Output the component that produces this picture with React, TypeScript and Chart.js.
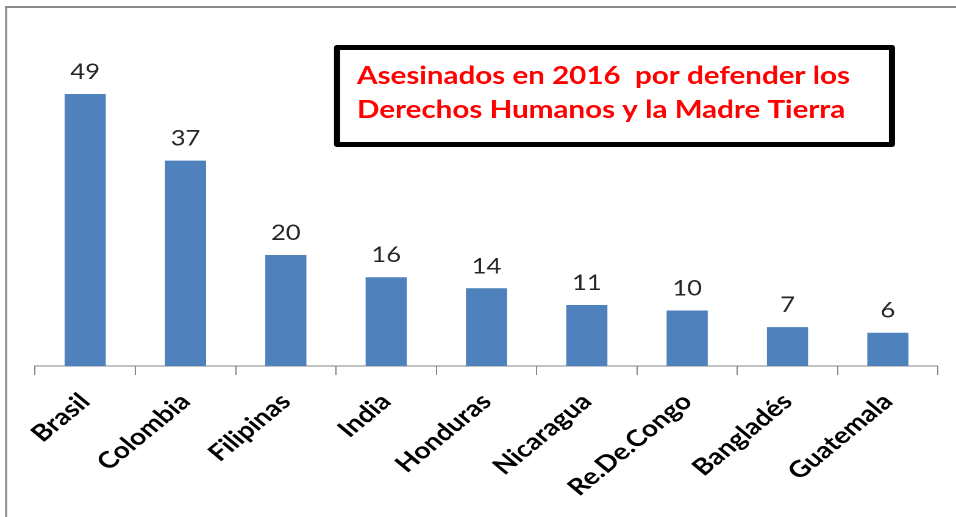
import React, { useEffect, useRef } from "react";
import { Chart, registerables } from "chart.js";

Chart.register(...registerables);

const categories = [
  "Brasil",
  "Colombia",
  "Filipinas",
  "India",
  "Honduras",
  "Nicaragua",
  "Re.De.Congo",
  "Bangladés",
  "Guatemala",
];
const values = [49, 37, 20, 16, 14, 11, 10, 7, 6];
const titleLines = [
  "Asesinados en 2016  por defender los",
  "Derechos Humanos y la Madre Tierra",
];
const yMin = 0;
const yMax = 60;

// The reference is horizontally stretched; render narrower and stretch.
const W = 784;
const H = 517;
const S = 956 / W;

export default function App() {
  const ref = useRef<HTMLCanvasElement>(null);

  useEffect(() => {
    let chart: Chart | null = null;
    let cancelled = false;

    const frame = {
      id: "frame",
      beforeDraw(c: any) {
        const ctx = c.ctx;
        ctx.save();
        ctx.fillStyle = "#ffffff";
        ctx.fillRect(0, 0, W, H);
        ctx.strokeStyle = "#8a8a8a";
        ctx.lineWidth = 2;
        ctx.beginPath();
        ctx.moveTo(4, 7);
        ctx.lineTo(W, 7);
        ctx.stroke();
        ctx.lineWidth = 2 / S;
        ctx.beginPath();
        ctx.moveTo(5, 6);
        ctx.lineTo(5, H);
        ctx.stroke();
        ctx.restore();
      },
    };

    const titleBox = {
      id: "titleBox",
      afterDraw(c: any) {
        const ctx = c.ctx;
        ctx.save();
        const x0 = 334 / S + 2.5;
        const x1 = 895 / S - 2.5;
        const y0 = 47.5;
        const y1 = 144.5;
        ctx.strokeStyle = "#000000";
        ctx.lineWidth = 5;
        ctx.lineJoin = "round";
        ctx.beginPath();
        ctx.rect(x0, y0, x1 - x0, y1 - y0);
        ctx.stroke();

        ctx.font = "bold 25px Lato";
        ctx.fillStyle = "#ff0000";
        ctx.textAlign = "left";
        ctx.textBaseline = "alphabetic";
        const target = (850 - 357) / S;
        const measured = ctx.measureText(titleLines[0]).width;
        const k = target / measured;
        const tx = 357 / S;
        ctx.translate(tx, 0);
        ctx.scale(k, 1);
        ctx.fillText(titleLines[0], 0, 84);
        ctx.fillText(titleLines[1], 0, 118);
        ctx.restore();
      },
    };

    const dataLabels = {
      id: "dataLabels",
      afterDatasetsDraw(c: any) {
        const ctx = c.ctx;
        const meta = c.getDatasetMeta(0);
        ctx.save();
        ctx.font = "21px Lato";
        ctx.fillStyle = "#262626";
        ctx.textAlign = "center";
        ctx.textBaseline = "alphabetic";
        meta.data.forEach((bar: any, i: number) => {
          ctx.fillText(String(values[i]), bar.x, bar.y - 15);
        });
        ctx.restore();
      },
    };

    const build = () => {
      if (cancelled || !ref.current) return;
      chart = new Chart(ref.current, {
        type: "bar",
        data: {
          labels: categories,
          datasets: [
            {
              data: values,
              backgroundColor: "#4f81bd",
              borderWidth: 0,
              barPercentage: 0.41,
              categoryPercentage: 1,
            },
          ],
        },
        options: {
          animation: false,
          responsive: false,
          devicePixelRatio: 2,
          layout: {
            padding: { left: 35 / S, right: W - 938 / S, top: 33, bottom: 0 },
          },
          plugins: {
            legend: { display: false },
            tooltip: { enabled: false },
            title: { display: false },
          },
          scales: {
            x: {
              grid: {
                display: true,
                drawOnChartArea: false,
                drawTicks: true,
                tickLength: 9,
                color: "#868686",
                lineWidth: 1,
                offset: true,
              },
              border: { display: true, color: "#868686", width: 1 },
              ticks: {
                color: "#000000",
                font: { family: "Lato", size: 23, weight: "bold" },
                minRotation: 45,
                maxRotation: 45,
                padding: 13,
                autoSkip: false,
              },
              afterFit: (s: any) => {
                s.height = 151;
              },
            },
            y: {
              display: false,
              min: yMin,
              max: yMax,
            },
          },
        },
        plugins: [frame, titleBox, dataLabels],
      } as any);
    };

    const fonts = (document as any).fonts;
    if (fonts && fonts.load) {
      Promise.all([
        fonts.load("bold 25px Lato"),
        fonts.load("bold 23px Lato"),
        fonts.load("21px Lato"),
      ])
        .catch(() => null)
        .then(build);
    } else {
      build();
    }

    return () => {
      cancelled = true;
      if (chart) chart.destroy();
    };
  }, []);

  return (
    <div
      style={{
        position: "absolute",
        left: 0,
        top: 0,
        width: 956,
        height: 517,
        overflow: "hidden",
        background: "#ffffff",
      }}
    >
      <div
        style={{
          width: W,
          height: H,
          transform: `scaleX(${S})`,
          transformOrigin: "0 0",
        }}
      >
        <canvas ref={ref} width={W} height={H} style={{ width: W, height: H }} />
      </div>
    </div>
  );
}
